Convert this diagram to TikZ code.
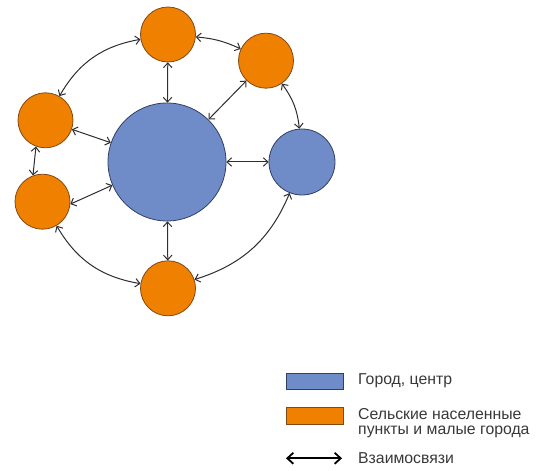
\documentclass[tikz,border=0pt]{standalone}
\usepackage{fontspec}
\setmainfont{Liberation Sans}
\usetikzlibrary{arrows.meta}
\definecolor{cityfill}{RGB}{111,140,200}
\definecolor{cityline}{RGB}{47,63,100}
\definecolor{villfill}{RGB}{240,128,0}
\definecolor{villline}{RGB}{130,72,20}
\definecolor{linkgray}{RGB}{45,45,50}
\begin{document}
\begin{tikzpicture}[x=1pt,y=1pt,
	city/.style={circle, draw=cityline, fill=cityfill, line width=0.8pt, inner sep=0pt},
	village/.style={circle, draw=villline, fill=villfill, line width=0.8pt, inner sep=0pt, minimum size=55pt},
	link/.style={{Straight Barb[length=4.5pt,width=8.5pt]}-{Straight Barb[length=4.5pt,width=8.5pt]}, line width=1pt, draw=linkgray},
	keybox/.style={draw=#1line, fill=#1fill, line width=0.8pt, minimum width=57pt, minimum height=16.5pt, inner sep=0pt},
	keytext/.style={anchor=west, align=left, inner sep=0pt, font=\fontsize{15.8}{15.6}\selectfont, text=black!78}]
	\useasboundingbox (0,0) rectangle (539,471);
	\node[city, minimum size=118pt] (center) at (167,309) {};
	\node[city, minimum size=66pt] (right) at (302,309) {};
	\node[village] (top) at (168,436.5) {};
	\node[village] (topright) at (266,410.3) {};
	\node[village] (leftup) at (45.5,350.7) {};
	\node[village] (leftlow) at (42.5,269.3) {};
	\node[village] (bottom) at (168,182.7) {};
	\draw[link] (top) -- (center);
	\draw[link] (center) -- (bottom);
	\draw[link] (center) -- (right);
	\draw[link] (topright) -- (center);
	\draw[link] (leftup) -- (center);
	\draw[link] (leftlow.-5) -- (center.203);
	\draw[link] (leftup.250) -- (leftlow.110);
	\draw[link] (top) to[bend left=10] (topright);
	\draw[link] (top) to[bend right=25] (leftup);
	\draw[link] (topright) to[bend left=15] (right);
	\draw[link] (leftlow) to[bend right=25] (bottom);
	\draw[link] (bottom) to[bend right=25] (right);
	\node[keybox=city] (keycity) at (314.5,89.5) {};
	\node[keytext] (textcity) at (358,90.7) {Город, центр};
	\node[keybox=vill] (keyvill) at (314.5,55) {};
	\node[keytext] (textvill) at (358,48) {Сельские населенные\\пункты и малые города};
	\coordinate (keyfrom) at (286,12.7);
	\coordinate (keyto) at (342,12.7);
	\draw[{Straight Barb[length=6pt,width=11pt]}-{Straight Barb[length=6pt,width=11pt]}, line width=1.8pt, draw=black] (keyfrom) -- (keyto);
	\node[keytext] (textlink) at (358,12.7) {Взаимосвязи};
\end{tikzpicture}
\end{document}
